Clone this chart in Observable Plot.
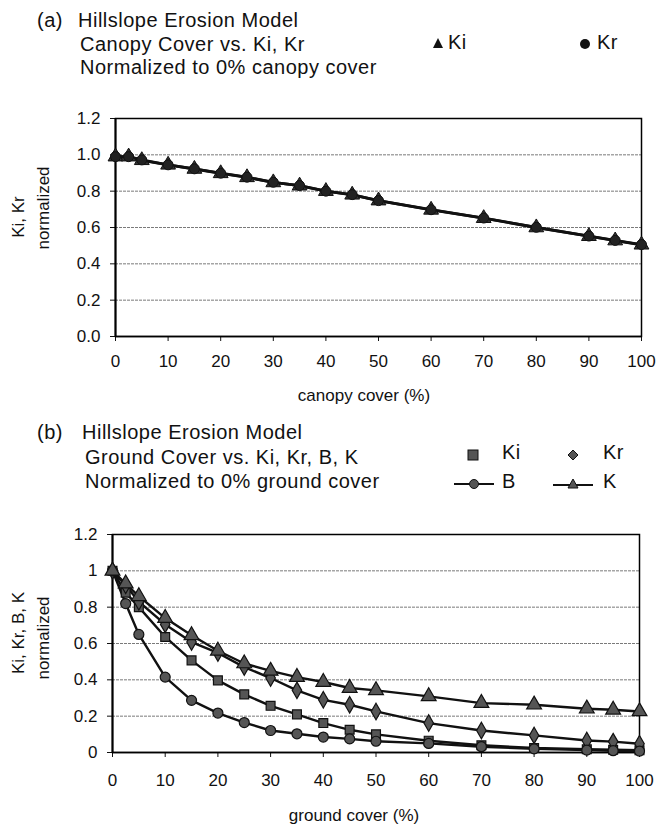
<!DOCTYPE html>
<html><head><meta charset="utf-8">
<script src="https://cdn.jsdelivr.net/npm/d3@7"></script>
<script src="https://cdn.jsdelivr.net/npm/@observablehq/plot@0.6"></script>
<style>
body{margin:0;background:#fff;font-family:"Liberation Sans",Arial,sans-serif;color:#111}
#wrap{position:relative;width:656px;height:824px;overflow:hidden;background:#fff}
.t{position:absolute;white-space:nowrap;line-height:1}
.title{font-size:20px;letter-spacing:0.5px}
.lab{font-size:17px}
.rot{transform:translate(-50%,-50%) rotate(-90deg)}
.ctr{transform:translate(-50%,-50%)}
.box{position:absolute;left:0}
</style></head><body><div id="wrap"></div>
<script>
// ---------- data ----------
const canopyCover = [0, 2.5, 5, 10, 15, 20, 25, 30, 35, 40, 45, 50, 60, 70, 80, 90, 95, 100];
const canopyKi = [0.99, 0.99, 0.97, 0.945, 0.922, 0.898, 0.876, 0.848, 0.830, 0.800, 0.780, 0.748, 0.697, 0.651, 0.600, 0.552, 0.528, 0.505];
const canopyKr = [0.99, 0.99, 0.972, 0.945, 0.923, 0.899, 0.877, 0.849, 0.831, 0.800, 0.781, 0.748, 0.698, 0.652, 0.601, 0.553, 0.529, 0.506];

const groundCover = [0, 2.5, 5, 10, 15, 20, 25, 30, 35, 40, 45, 50, 60, 70, 80, 90, 95, 100];
const groundKi = [1, 0.88, 0.80, 0.636, 0.507, 0.397, 0.320, 0.257, 0.210, 0.162, 0.125, 0.100, 0.065, 0.040, 0.025, 0.018, 0.015, 0.012];
const groundKr = [1, 0.92, 0.83, 0.705, 0.608, 0.548, 0.470, 0.410, 0.342, 0.290, 0.263, 0.226, 0.162, 0.121, 0.094, 0.066, 0.060, 0.048];
const groundB  = [1, 0.82, 0.65, 0.415, 0.287, 0.217, 0.165, 0.121, 0.103, 0.085, 0.075, 0.062, 0.050, 0.032, 0.020, 0.013, 0.010, 0.008];
const groundK  = [1, 0.93, 0.86, 0.740, 0.645, 0.560, 0.490, 0.449, 0.415, 0.388, 0.355, 0.342, 0.309, 0.272, 0.263, 0.241, 0.235, 0.226];

const xTicks = [0, 10, 20, 30, 40, 50, 60, 70, 80, 90, 100];
const yTicks = [0, 0.2, 0.4, 0.6, 0.8, 1.0, 1.2];

const titleA = ["Hillslope Erosion Model", "Canopy Cover vs. Ki, Kr", "Normalized to 0% canopy cover"];
const titleB = ["Hillslope Erosion Model", "Ground Cover vs. Ki, Kr, B, K", "Normalized to 0% ground cover"];

// ---------- helpers ----------
const rows = (xs, ys, s) => xs.map((x, i) => ({x, y: ys[i], s}));
const wrap = document.getElementById("wrap");
function addText(txt, left, top, cls, extra) {
  const d = document.createElement("div");
  d.className = "t " + cls;
  d.textContent = txt;
  d.style.left = left + "px";
  d.style.top = top + "px";
  if (extra) Object.assign(d.style, extra);
  wrap.appendChild(d);
  return d;
}
function addHTML(html, left, top) {
  const d = document.createElement("div");
  d.className = "t";
  d.innerHTML = html;
  d.style.left = left + "px";
  d.style.top = top + "px";
  wrap.appendChild(d);
}
const baseStyle = {fontFamily: "'Liberation Sans', Arial, sans-serif", fontSize: "17px", color: "#111", background: "white", overflow: "visible"};

// ---------- panel (a) ----------
const aKi = rows(canopyCover, canopyKi, "Ki");
const aKr = rows(canopyCover, canopyKr, "Kr");
const plotA = Plot.plot({
  width: 656, height: 310,
  marginTop: 18, marginBottom: 74, marginLeft: 115, marginRight: 15,
  style: baseStyle,
  x: {domain: [0, 100], ticks: xTicks, tickSize: 5, tickPadding: 13, label: null},
  y: {domain: [0, 1.2], ticks: yTicks, tickFormat: d => d.toFixed(1), tickSize: 5, tickPadding: 10, label: null},
  marks: [
    Plot.ruleY(yTicks.filter(d => d > 0 && d < 1.2), {stroke: "#7a7a7a", strokeWidth: 1, strokeDasharray: "3,1"}),
    Plot.frame({stroke: "#000", strokeWidth: 1.5}),
    Plot.ruleX([0], {stroke: "#000", strokeWidth: 2}),
    Plot.ruleY([0], {stroke: "#000", strokeWidth: 1.5}),
    Plot.line(aKi, {x: "x", y: "y", stroke: "#111", strokeWidth: 2.8}),
    Plot.line(aKr, {x: "x", y: "y", stroke: "#111", strokeWidth: 2.8}),
    Plot.dot(aKi, {x: "x", y: "y", symbol: "triangle", r: 5.5, fill: "#333", stroke: "#111", strokeWidth: 1}),
    Plot.dot(aKr, {x: "x", y: "y", symbol: "circle", r: 5, fill: "#222", stroke: "#111", strokeWidth: 1})
  ]
});
plotA.classList.add("box");
plotA.style.top = "100px";
wrap.appendChild(plotA);

addText("(a)", 37, 10, "title");
addText(titleA[0], 78, 10, "title");
addText(titleA[1], 80, 34, "title");
addText(titleA[2], 80, 57, "title");
const triA = '<svg width="12" height="12"><path d="M6,1L11,11L1,11Z" fill="#111"/></svg>';
const cirA = '<svg width="12" height="12"><circle cx="6" cy="6" r="5" fill="#111"/></svg>';
addHTML(triA, 432, 36);
addText("Ki", 448, 32, "title");
addHTML(cirA, 579, 37);
addText("Kr", 597, 32, "title");

addText("Ki, Kr", 18, 217, "lab rot");
addText("normalized", 43, 208, "lab rot");
addText("canopy cover (%)", 364, 395, "lab ctr");

// ---------- panel (b) ----------
const bData = [
  {name: "Ki", d: rows(groundCover, groundKi, "Ki"), symbol: "square"},
  {name: "Kr", d: rows(groundCover, groundKr, "Kr"), symbol: "diamond"},
  {name: "B",  d: rows(groundCover, groundB, "B"),   symbol: "circle"},
  {name: "K",  d: rows(groundCover, groundK, "K"),   symbol: "triangle"}
];
const plotB = Plot.plot({
  width: 656, height: 290,
  marginTop: 14, marginBottom: 58, marginLeft: 112, marginRight: 17,
  style: baseStyle,
  x: {domain: [0, 100], ticks: xTicks, tickSize: 5, tickPadding: 16, label: null},
  y: {domain: [0, 1.2], ticks: yTicks, tickFormat: d => String(+d.toFixed(1)), tickSize: 5, tickPadding: 10, label: null},
  marks: [
    Plot.ruleY(yTicks.filter(d => d > 0 && d < 1.2), {stroke: "#7a7a7a", strokeWidth: 1, strokeDasharray: "3,1"}),
    Plot.frame({stroke: "#000", strokeWidth: 1.5}),
    Plot.ruleX([0], {stroke: "#000", strokeWidth: 2}),
    Plot.ruleY([0], {stroke: "#000", strokeWidth: 1.5}),
    ...bData.map(s => Plot.line(s.d, {x: "x", y: "y", stroke: "#111", strokeWidth: 2.4})),
    ...bData.map(s => Plot.dot(s.d, {x: "x", y: "y", symbol: s.symbol, r: s.symbol === "triangle" ? 5.5 : 5, fill: "#555", stroke: "#111", strokeWidth: 1.2}))
  ]
});
plotB.classList.add("box");
plotB.style.top = "520px";
wrap.appendChild(plotB);

addText("(b)", 37, 422, "title");
addText(titleB[0], 82, 422, "title");
addText(titleB[1], 85, 447, "title");
addText(titleB[2], 85, 471, "title");

// legend (b)
const sq = '<svg width="12" height="12" style="vertical-align:middle"><rect x="1" y="1" width="10" height="10" fill="#555" stroke="#111"/></svg>';
const di = '<svg width="12" height="12" style="vertical-align:middle"><path d="M6,1L11,6L6,11L1,6Z" fill="#555" stroke="#111"/></svg>';
const lc = '<svg width="40" height="12" style="vertical-align:middle"><line x1="0" y1="6" x2="40" y2="6" stroke="#111" stroke-width="2"/><circle cx="20" cy="6" r="4.5" fill="#555" stroke="#111"/></svg>';
const lt = '<svg width="40" height="12" style="vertical-align:middle"><line x1="0" y1="7" x2="40" y2="7" stroke="#111" stroke-width="2"/><path d="M20,1L25,10L15,10Z" fill="#555" stroke="#111"/></svg>';
addHTML(sq, 467, 446);
addText("Ki", 502, 442, "title");
addHTML(di, 567, 446);
addText("Kr", 603, 442, "title");
addHTML(lc, 454, 475);
addText("B", 502, 471, "title");
addHTML(lt, 553, 475);
addText("K", 603, 471, "title");

addText("Ki, Kr, B, K", 18, 633, "lab rot");
addText("normalized", 43, 638, "lab rot");
addText("ground cover (%)", 354, 815, "lab ctr");
</script></body></html>
